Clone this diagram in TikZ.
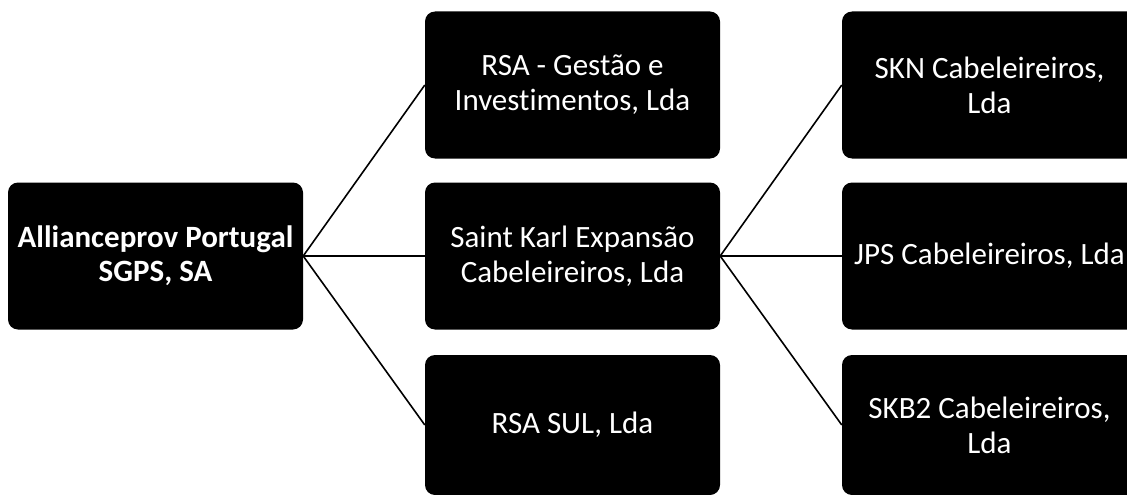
\documentclass[tikz,border=0pt]{standalone}
\usepackage{fontspec}
\setmainfont{Carlito}[Ligatures={NoCommon}]
\begin{document}
\begin{tikzpicture}[x=1pt,y=-1pt,
    caixa/.style={fill=black,rounded corners=10pt,text=white,align=center,
        minimum width=295pt,minimum height=147pt,inner sep=0pt,
        font=\fontsize{31}{35}\selectfont},
    liga/.style={line width=1.6pt}]
    \useasboundingbox (0,0) rectangle (1127,495);
    \clip (0,0) rectangle (1127,495);
    \node [caixa,font=\fontsize{31}{34}\selectfont\bfseries] (root) at (155.5,256) {Allianceprov Portugal\\SGPS, SA};
    \node [caixa] (rsa) at (572.5,85) {RSA - Gestão e\\Investimentos, Lda};
    \node [caixa] (skx) at (572.5,256) {Saint Karl Expansão\\Cabeleireiros, Lda};
    \node [caixa,minimum height=140pt] (sul) at (572.5,425) {\raisebox{-6pt}{RSA SUL, Lda}};
    \node [caixa] (skn) at (989.5,85) {SKN Cabeleireiros,\\Lda};
    \node [caixa] (jps) at (989.5,256) {JPS Cabeleireiros, Lda};
    \node [caixa,minimum height=140pt] (skb) at (989.5,425) {SKB2 Cabeleireiros,\\Lda};
    \draw [liga] (root.east) -- (rsa.west) ;
    \draw [liga] (root.east) -- (skx.west) ;
    \draw [liga] (root.east) -- (sul.west) ;
    \draw [liga] (skx.east) -- (skn.west) ;
    \draw [liga] (skx.east) -- (jps.west) ;
    \draw [liga] (skx.east) -- (skb.west) ;
\end{tikzpicture}
\end{document}
